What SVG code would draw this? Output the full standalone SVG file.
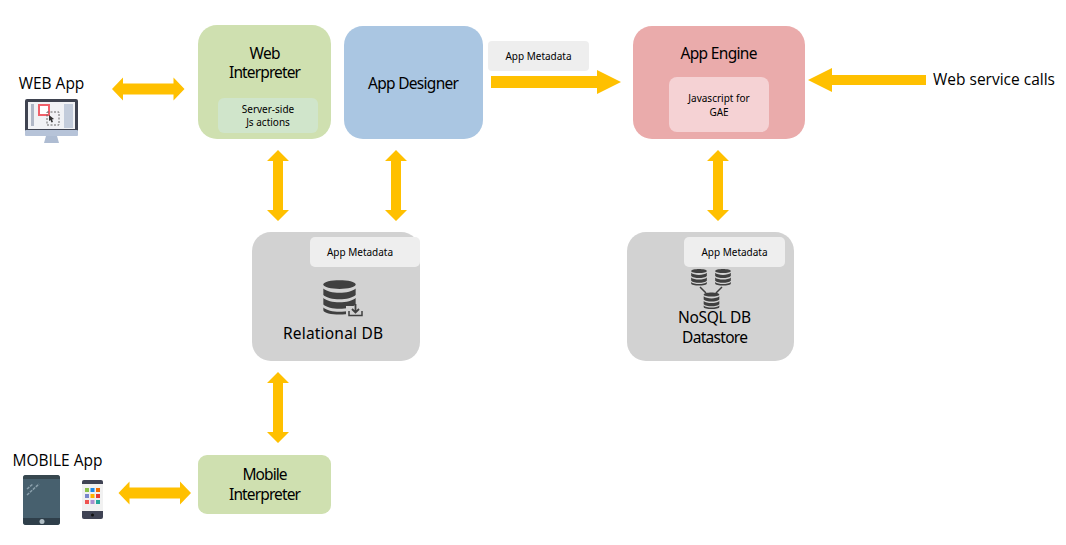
<svg xmlns="http://www.w3.org/2000/svg" width="1066" height="545" viewBox="0 0 1066 545">
<style>
text{font-family:"Noto Sans","Open Sans","DejaVu Sans",sans-serif;fill:#000;text-anchor:middle}
.l{font-size:15.5px}.s{font-size:10px}.lab{font-family:"Open Sans","Noto Sans",sans-serif;font-size:15.5px}
.ar{fill:#ffc000}
.chip{fill:#eeeeee}
.gray{fill:#d2d2d2}
.green{fill:#cfe0b0}
.db{fill:#404040}
</style>
<defs>
<g id="cyl">
<path class="db" d="M-17-12C-17-18 17-18 17-12C17-6-17-6-17-12Z"/>
<path class="db" d="M-17-8C-11-2 11-2 17-8V-1C11 5-11 5-17-1Z"/>
<path class="db" d="M-17 2C-11 8 11 8 17 2V9C11 15-11 15-17 9Z"/>
<path class="db" d="M-17 12C-11 18 11 18 17 12V15C17 21-17 21-17 15Z"/>
</g>
<path id="h" class="ar" d="M0 0L11-11.500V-5.500H61.500V-11.500L72.500 0L61.500 11.500V5.500H11V11.500Z"/>
<path id="vv" class="ar" d="M0 0L11 11H5V60H11L0 71L-11 60H-5V11H-11Z"/>
</defs>
<g id="connectors">
<use href="#h" x="112" y="89"/>
<use href="#h" x="118.500" y="493"/>
<use href="#vv" x="278" y="150"/>
<use href="#vv" x="396" y="150"/>
<use href="#vv" x="718" y="150"/>
<use href="#vv" x="278" y="372"/>
<path class="ar" d="M491 76H597V70L621 82L597 94V88H491Z"/>
<path class="ar" d="M808 80L832 68V75H926V85H832V92Z"/>
</g>
<g id="web-app">
<text class="lab" x="51.500" y="89">WEB App</text>
<rect x="25" y="99" width="53" height="36" rx="2" fill="#3f4350"/>
<rect x="25" y="130" width="53" height="6" rx="1" fill="#b6c3d8"/>
<rect x="28" y="102" width="47" height="27" fill="#f1f2f5"/>
<rect x="31" y="104" width="3" height="22" fill="#b0b7c6"/>
<rect x="64" y="104" width="9" height="24" fill="#c3ccdb"/>
<rect x="39" y="105" width="10" height="10" fill="#fff" stroke="#f0606a" stroke-width="2"/>
<rect x="47" y="112" width="12" height="13" fill="none" stroke="#666" stroke-width="1" stroke-dasharray="2 1.500"/>
<path d="M49 115l5 4-2 .5 1 2.500-1.500.5-1-2.500-1.500 1Z" fill="#333"/>
<path d="M46 136H57L59 143H44Z" fill="#aebcd2"/>
</g>
<g id="mobile-app">
<text class="lab" x="57.500" y="466">MOBILE App</text>
<rect x="23" y="475" width="37" height="50" rx="3" fill="#47606e"/>
<path d="M23 518H60V522a3 3 0 0 1-3 3H26a3 3 0 0 1-3-3Z" fill="#2f3f4a"/>
<path d="M23 478a3 3 0 0 1 3-3H57a3 3 0 0 1 3 3V479H23Z" fill="#37474f"/>
<circle cx="42" cy="521.500" r="2.500" fill="#b0bec5"/>
<path d="M27 489L33 484M27 495L39 484" stroke="#8ba0ac" stroke-width="1.500" stroke-dasharray="3 1"/>
<rect x="82" y="480" width="21" height="39" rx="2" fill="#f1f1f1"/>
<path d="M82 482a2 2 0 0 1 2-2H101a2 2 0 0 1 2 2V484H82Z" fill="#3f4354"/>
<path d="M82 511H103V517a2 2 0 0 1-2 2H84a2 2 0 0 1-2-2Z" fill="#3f4354"/>
<circle cx="92.500" cy="515" r="1.500" fill="#111"/>
<g>
<rect x="85" y="488" width="4" height="4" fill="#8bc34a"/><rect x="90.500" y="488" width="4" height="4" fill="#1e88e5"/><rect x="96" y="488" width="4" height="4" fill="#ef6c00"/>
<rect x="85" y="494" width="4" height="4" fill="#7986cb"/><rect x="90.500" y="494" width="4" height="4" fill="#ffb300"/><rect x="96" y="494" width="4" height="4" fill="#e53935"/>
<rect x="85" y="500" width="4" height="4" fill="#ef5350"/><rect x="90.500" y="500" width="4" height="4" fill="#ab8fd0"/><rect x="96" y="500" width="4" height="4" fill="#26a69a"/>
</g>
</g>
<g id="web-interpreter">
<rect class="green" x="198" y="25" width="133" height="114" rx="19"/>
<rect x="218" y="98" width="100" height="35" rx="6" fill="#d0e5cb"/>
<text class="l" x="265" y="59" textLength="31">Web</text>
<text class="l" x="265" y="78" textLength="72">Interpreter</text>
<text class="s" x="268" y="113">Server-side</text>
<text class="s" x="268" y="126">Js actions</text>
</g>
<g id="app-designer">
<rect x="344" y="26" width="139" height="113" rx="19" fill="#aac6e2"/>
<text class="l" x="413.500" y="89" textLength="91">App Designer</text>
</g>
<g id="metadata-label">
<rect class="chip" x="488" y="41" width="101" height="30" rx="4"/>
<text class="s" x="538.500" y="60">App Metadata</text>
</g>
<g id="app-engine">
<rect x="633" y="26" width="172" height="113" rx="19" fill="#eaabab"/>
<rect x="669" y="77" width="100" height="55" rx="8" fill="#f5d2d4"/>
<text class="l" x="719" y="59" textLength="77">App Engine</text>
<text class="s" x="719" y="102">Javascript for</text>
<text class="s" x="719" y="116">GAE</text>
</g>
<g id="web-service-calls">
<text class="lab" x="994" y="85">Web service calls</text>
</g>
<g id="relational-db">
<rect class="gray" x="252" y="232" width="168" height="129" rx="19"/>
<rect class="chip" x="310" y="237" width="110" height="30" rx="5"/>
<text class="s" x="360" y="256">App Metadata</text>
<use href="#cyl" transform="translate(339.500 296) scale(.95)"/>
<path d="M346 306H364V317H346Z" fill="#d2d2d2"/>
<path d="M349 311V315.500H362V311" fill="none" stroke="#404040" stroke-width="1.500"/>
<path d="M355.500 304V312M352 309L355.500 312.500L359 309" fill="none" stroke="#404040" stroke-width="1.800"/>
<text class="l" x="333" y="339" textLength="100">Relational DB</text>
</g>
<g id="nosql-db">
<rect class="gray" x="627" y="232" width="167" height="129" rx="19"/>
<rect class="chip" x="684" y="237" width="101" height="30" rx="5"/>
<text class="s" x="734.500" y="256">App Metadata</text>
<use href="#cyl" transform="translate(699 276.500) scale(.46)"/>
<use href="#cyl" transform="translate(723 276.500) scale(.46)"/>
<use href="#cyl" transform="translate(711.500 300) scale(.46)"/>
<path d="M700 287L706 293M722 287L716 293" stroke="#404040" stroke-width="1.500"/>
<text class="l" x="714.500" y="323" textLength="73">NoSQL DB</text>
<text class="l" x="715" y="343" textLength="66">Datastore</text>
</g>
<g id="mobile-interpreter">
<rect class="green" x="198" y="455" width="133" height="59" rx="9"/>
<text class="l" x="265" y="480" textLength="45">Mobile</text>
<text class="l" x="265" y="500" textLength="72">Interpreter</text>
</g>
</svg>
